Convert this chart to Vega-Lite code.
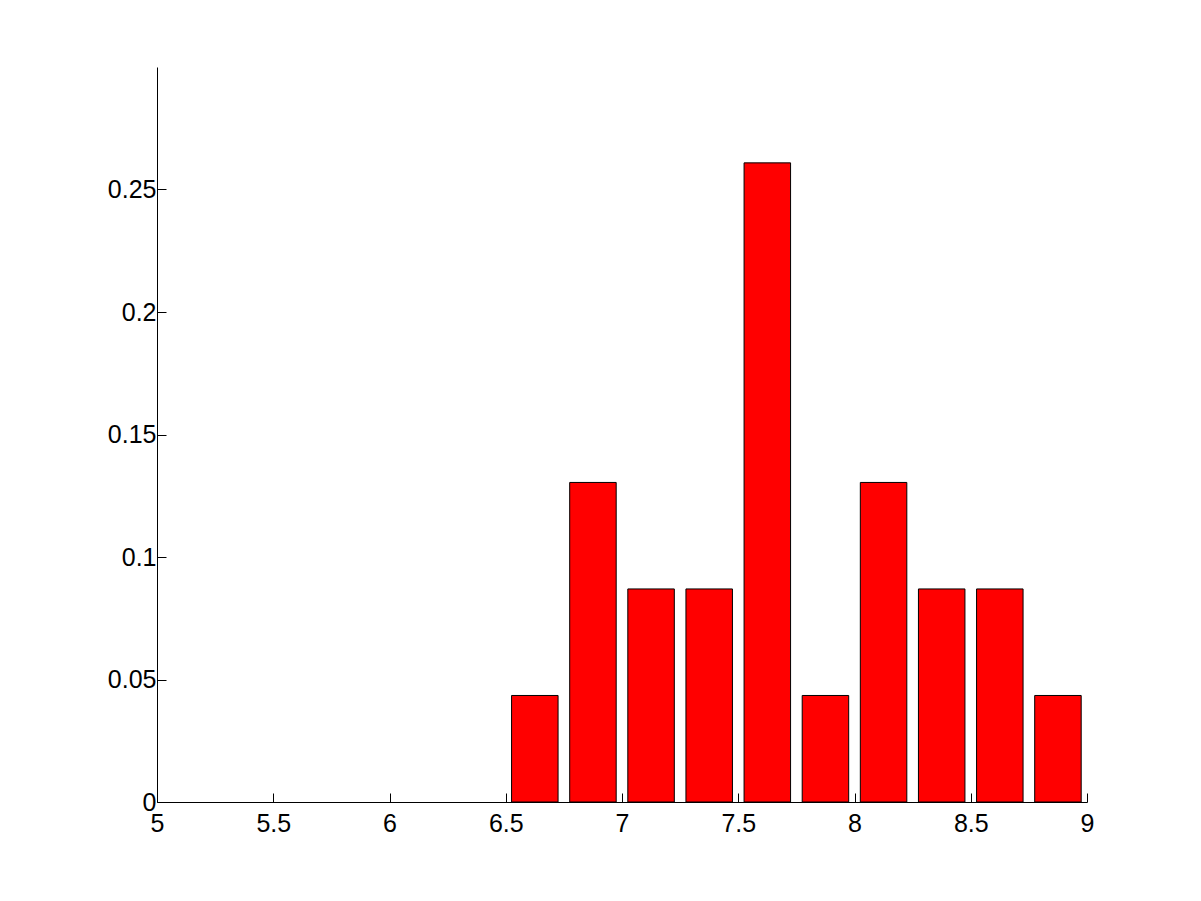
{
  "$schema": "https://vega.github.io/schema/vega-lite/v6.json",
  "width": 930,
  "height": 735,
  "autosize": {"type": "none"},
  "padding": {"left": 157, "top": 67, "right": 114, "bottom": 99},
  "background": "white",
  "config": {
    "view": {"stroke": null},
    "axis": {
      "labelFont": "Arial",
      "labelFontSize": 25,
      "labelColor": "black",
      "domainColor": "black",
      "tickColor": "black",
      "grid": false,
      "title": null
    }
  },
  "data": {
    "values": [
      {"center": 6.625, "freq": 0.04348},
      {"center": 6.875, "freq": 0.13043},
      {"center": 7.125, "freq": 0.08696},
      {"center": 7.375, "freq": 0.08696},
      {"center": 7.625, "freq": 0.26087},
      {"center": 7.875, "freq": 0.04348},
      {"center": 8.125, "freq": 0.13043},
      {"center": 8.375, "freq": 0.08696},
      {"center": 8.625, "freq": 0.08696},
      {"center": 8.875, "freq": 0.04348}
    ]
  },
  "mark": {"type": "bar", "size": 46.5, "color": "#ff0000", "stroke": "black", "strokeWidth": 1},
  "encoding": {
    "x": {
      "field": "center",
      "type": "quantitative",
      "scale": {"domain": [5, 9], "nice": false, "zero": false, "padding": 0},
      "axis": {
        "values": [5, 5.5, 6, 6.5, 7, 7.5, 8, 8.5, 9],
        "format": "~g",
        "tickSize": -9,
        "labelPadding": 18,
        "labelFlush": false
      }
    },
    "y": {
      "field": "freq",
      "type": "quantitative",
      "scale": {"domain": [0, 0.3], "nice": false},
      "axis": {
        "values": [0, 0.05, 0.1, 0.15, 0.2, 0.25],
        "format": "~g",
        "tickSize": -9,
        "labelPadding": 10,
        "labelFlush": false
      }
    }
  }
}
